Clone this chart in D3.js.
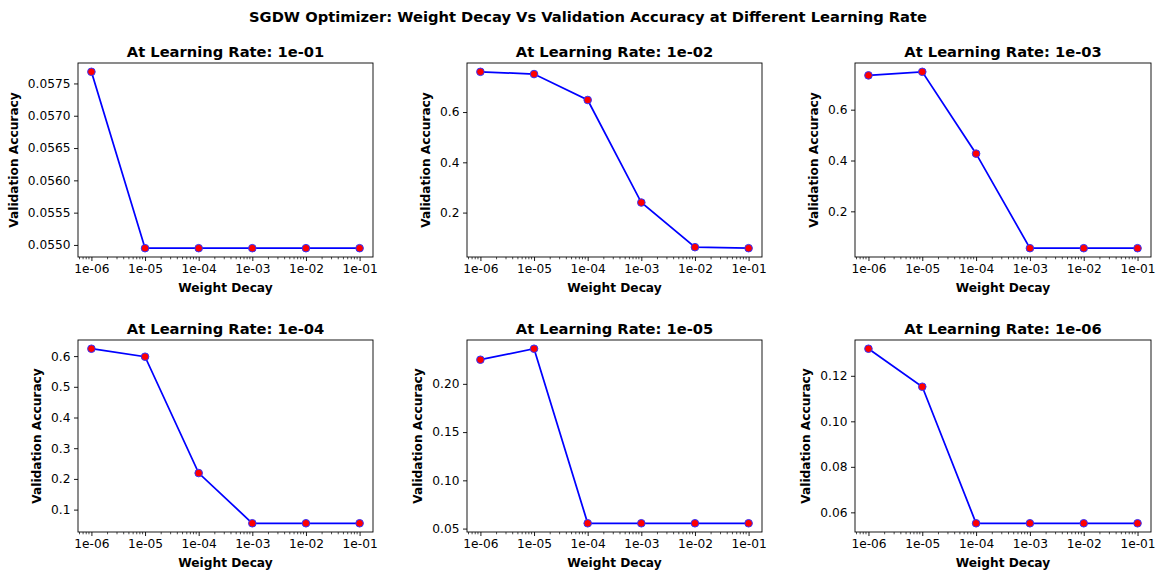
<!DOCTYPE html>
<html>
<head>
<meta charset="utf-8">
<script src="https://cdn.jsdelivr.net/npm/d3@7"></script>
<style>
  body { margin: 0; background: #fff; }
  text { font-family: "DejaVu Sans", sans-serif; fill: #000; }
</style>
</head>
<body>
<script>
var weightDecays = [1e-6, 1e-5, 1e-4, 1e-3, 1e-2, 1e-1];
var decayLabels = ["1e-06", "1e-05", "1e-04", "1e-03", "1e-02", "1e-01"];
var learningRates = ["1e-01", "1e-02", "1e-03", "1e-04", "1e-05", "1e-06"];

var accLr1 = [0.05768, 0.05495, 0.05495, 0.05495, 0.05495, 0.05495];
var accLr2 = [0.760, 0.751, 0.648, 0.240, 0.0624, 0.0584];
var accLr3 = [0.735, 0.749, 0.427, 0.055, 0.055, 0.055];
var accLr4 = [0.624, 0.598, 0.219, 0.0555, 0.0555, 0.0555];
var accLr5 = [0.225, 0.2364, 0.0555, 0.0555, 0.0555, 0.0555];
var accLr6 = [0.1319, 0.1152, 0.0552, 0.0552, 0.0552, 0.0552];
var accuracies = [accLr1, accLr2, accLr3, accLr4, accLr5, accLr6];

var yTicks = [
  ["0.0550", "0.0555", "0.0560", "0.0565", "0.0570", "0.0575"],
  ["0.2", "0.4", "0.6"],
  ["0.2", "0.4", "0.6"],
  ["0.1", "0.2", "0.3", "0.4", "0.5", "0.6"],
  ["0.05", "0.10", "0.15", "0.20"],
  ["0.06", "0.08", "0.10", "0.12"]
];

var w = 1160;
var h = 571;
var cols = [[78, 373], [467, 762], [855, 1151]];
var rows = [[63, 257], [340, 532]];

var svg = d3.select("body")
  .append("svg")
  .attr("width", w)
  .attr("height", h);

svg.append("text")
  .attr("x", 588)
  .attr("y", 21.5)
  .attr("text-anchor", "middle")
  .style("font-size", "14.7px")
  .style("font-weight", "bold")
  .text("SGDW Optimizer: Weight Decay Vs Validation Accuracy at Different Learning Rate");

accuracies.forEach(function(acc, i) {
  var c = cols[i % 3];
  var r = rows[Math.floor(i / 3)];
  var left = c[0], right = c[1], top = r[0], bottom = r[1];

  var x = d3.scaleLog()
    .domain([Math.pow(10, -6.25), Math.pow(10, -0.75)])
    .range([left, right]);

  var lo = d3.min(acc), hi = d3.max(acc), pad = (hi - lo) * 0.05;
  var y = d3.scaleLinear()
    .domain([lo - pad, hi + pad])
    .range([bottom, top]);

  var g = svg.append("g");

  // minor ticks
  var minors = [];
  for (var d = -7; d <= -1; d++) {
    for (var k = 2; k <= 9; k++) {
      var v = k * Math.pow(10, d);
      if (v > x.domain()[0] && v < x.domain()[1]) minors.push(v);
    }
  }
  g.selectAll(".minor")
    .data(minors)
    .enter()
    .append("line")
    .attr("x1", function(d) { return x(d); })
    .attr("x2", function(d) { return x(d); })
    .attr("y1", bottom)
    .attr("y2", bottom + 2.3)
    .attr("stroke", "#000")
    .attr("stroke-width", 0.7);

  var xAxis = d3.axisBottom(x)
    .tickValues(weightDecays)
    .tickFormat(function(d, j) { return decayLabels[j]; })
    .tickSize(4)
    .tickPadding(3.5);
  var xg = g.append("g")
    .attr("transform", "translate(0," + bottom + ")")
    .call(xAxis);

  var yAxis = d3.axisLeft(y)
    .tickValues(yTicks[i].map(Number))
    .tickFormat(function(d, j) { return yTicks[i][j]; })
    .tickSize(4)
    .tickPadding(3.5);
  var yg = g.append("g")
    .attr("transform", "translate(" + left + ",0)")
    .call(yAxis);

  [xg, yg].forEach(function(a) {
    a.select(".domain").remove();
    a.selectAll(".tick line").attr("stroke", "#000").attr("stroke-width", 0.9);
    a.selectAll(".tick text")
      .style("font-size", "12.2px")
      .style("font-family", "DejaVu Sans")
      .attr("fill", "#222");
  });

  var maxW = 0;
  yg.selectAll(".tick text").each(function() {
    maxW = Math.max(maxW, this.getComputedTextLength());
  });

  g.append("rect")
    .attr("x", left)
    .attr("y", top)
    .attr("width", right - left)
    .attr("height", bottom - top)
    .attr("fill", "none")
    .attr("stroke", "#000")
    .attr("stroke-width", 0.9);

  var line = d3.line()
    .x(function(d, j) { return x(weightDecays[j]); })
    .y(function(d) { return y(d); });

  g.append("path")
    .datum(acc)
    .attr("d", line)
    .attr("fill", "none")
    .attr("stroke", "#0000ff")
    .attr("stroke-width", 1.75);

  g.selectAll(".pt")
    .data(acc)
    .enter()
    .append("circle")
    .attr("cx", function(d, j) { return x(weightDecays[j]); })
    .attr("cy", function(d) { return y(d); })
    .attr("r", 3.8)
    .attr("fill", "#ff0000")
    .attr("stroke", "#3333ff")
    .attr("stroke-width", 1);

  g.append("text")
    .attr("x", (left + right) / 2)
    .attr("y", top - 6.5)
    .attr("text-anchor", "middle")
    .style("font-size", "14.7px")
    .style("font-weight", "bold")
    .text("At Learning Rate: " + learningRates[i]);

  g.append("text")
    .attr("x", (left + right) / 2)
    .attr("y", bottom + 34.5)
    .attr("text-anchor", "middle")
    .style("font-size", "12.2px")
    .style("font-weight", "bold")
    .text("Weight Decay");

  var lx = left - 7.5 - maxW - 14.5;
  g.append("text")
    .attr("transform", "translate(" + lx + "," + (top + bottom) / 2 + ") rotate(-90)")
    .attr("text-anchor", "middle")
    .attr("dy", "0.35em")
    .style("font-size", "12.2px")
    .style("font-weight", "bold")
    .text("Validation Accuracy");
});
</script>
</body>
</html>
